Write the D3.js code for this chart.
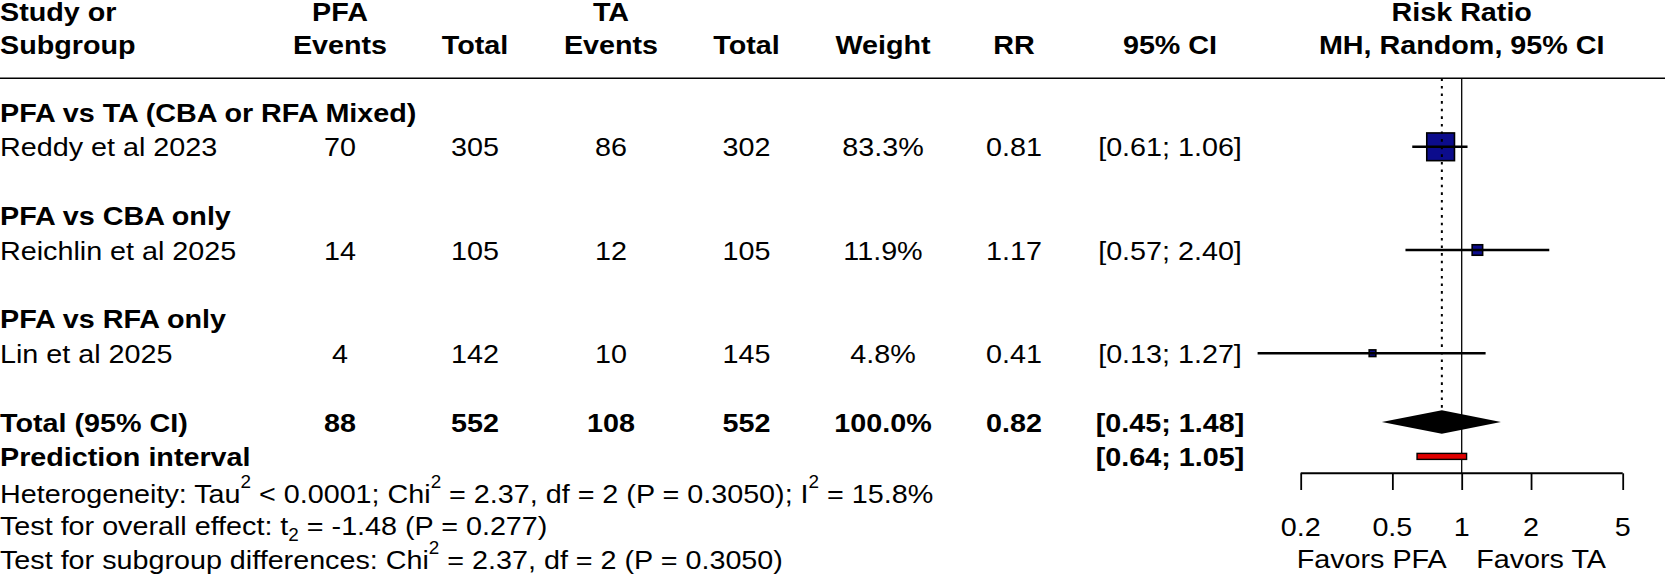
<!DOCTYPE html>
<html>
<head>
<meta charset="utf-8">
<script src="https://cdn.jsdelivr.net/npm/d3@7"></script>
<style>
  html, body { margin: 0; padding: 0; background: #fff; }
  svg { display: block; }
  text { font-family: "Liberation Sans", Arial, sans-serif; font-size: 26.6px; fill: #000; }
</style>
</head>
<body>
<svg id="chart" width="1665" height="577"></svg>
<script>
// ---------- data ----------
const subgroups = ["PFA vs TA (CBA or RFA Mixed)", "PFA vs CBA only", "PFA vs RFA only"];
const studies = ["Reddy et al 2023", "Reichlin et al 2025", "Lin et al 2025"];
const pfaEvents = [70, 14, 4];
const pfaTotal = [305, 105, 142];
const taEvents = [86, 12, 10];
const taTotal = [302, 105, 145];
const weights = [83.3, 11.9, 4.8];
const rr = [0.81, 1.17, 0.41];
const ciLow = [0.61, 0.57, 0.13];
const ciHigh = [1.06, 2.40, 1.27];

const totalLabel = "Total (95% CI)";
const totalValues = [88, 552, 108, 552];
const totalWeight = 100.0;
const pooledRR = 0.82;
const pooledLow = 0.45;
const pooledHigh = 1.48;
const predLow = 0.64;
const predHigh = 1.05;

const axisTicks = [0.2, 0.5, 1, 2, 5];
const headerTop = ["Study or", "PFA", "", "TA", "", "", "", "", "Risk Ratio"];
const headerBottom = ["Subgroup", "Events", "Total", "Events", "Total", "Weight", "RR", "95% CI", "MH, Random, 95% CI"];

// ---------- layout ----------
const SX = 1.08;               // horizontal glyph stretch of the reference
const svg = d3.select("#chart");
const x = d3.scaleLog().domain([0.2, 5]).range([1300.7, 1622.7]);
const rowY = d3.scaleLinear().domain([0, 10]).range([122, 466]);
const sq = d3.scaleSqrt().domain([0, 83.3]).range([0, 27.7]);
const colX = [0, 340, 475, 611, 746.5, 883, 1014, 1170, x(1)];
const capMid = 9.6;
const fmt2 = d3.format(".2f");
const fmtCI = (l, h) => `[${fmt2(l)}; ${fmt2(h)}]`;

function txt(x0, y0, s, anchor = "start", weight = "normal") {
  return svg.append("text")
    .attr("transform", `translate(${x0},${y0}) scale(${SX},1)`)
    .attr("text-anchor", anchor)
    .attr("font-weight", weight)
    .text(s);
}

// header
headerTop.forEach((h, i) => { if (h) txt(colX[i], 21, h, i === 0 ? "start" : "middle", "bold"); });
headerBottom.forEach((h, i) => txt(colX[i], 54, h, i === 0 ? "start" : "middle", "bold"));
svg.append("line").attr("x1", 0).attr("x2", 1665).attr("y1", 78.3).attr("y2", 78.3)
  .attr("stroke", "#000").attr("stroke-width", 1.4);

// reference line at RR = 1
svg.append("line").attr("x1", x(1)).attr("x2", x(1)).attr("y1", 78.3).attr("y2", 473.3)
  .attr("stroke", "#000").attr("stroke-width", 1.3);

// study rows
studies.forEach((s, i) => {
  const yt = rowY(i * 3), y = rowY(i * 3 + 1);
  txt(0, yt, subgroups[i], "start", "bold");
  txt(0, y, s);
  txt(colX[1], y, pfaEvents[i], "middle");
  txt(colX[2], y, pfaTotal[i], "middle");
  txt(colX[3], y, taEvents[i], "middle");
  txt(colX[4], y, taTotal[i], "middle");
  txt(colX[5], y, d3.format(".1f")(weights[i]) + "%", "middle");
  txt(colX[6], y, fmt2(rr[i]), "middle");
  txt(colX[7], y, fmtCI(ciLow[i], ciHigh[i]), "middle");
  const cy = y - capMid, side = sq(weights[i]);
  svg.append("rect").attr("x", x(rr[i]) - side / 2).attr("y", cy - side / 2)
    .attr("width", side).attr("height", side)
    .attr("fill", "#0c0c8c").attr("stroke", "#000").attr("stroke-width", 1.6);
  svg.append("line").attr("x1", x(ciLow[i])).attr("x2", x(ciHigh[i])).attr("y1", cy).attr("y2", cy)
    .attr("stroke", "#000").attr("stroke-width", 2.4);
});

// pooled dotted line
const yTot = rowY(9), yPred = rowY(10);
const dH = 11.7;
svg.append("line").attr("x1", x(pooledRR)).attr("x2", x(pooledRR))
  .attr("y1", 78.3).attr("y2", yTot - capMid - dH)
  .attr("stroke", "#000").attr("stroke-width", 2).attr("stroke-dasharray", "2.6,5");

// total row
txt(0, yTot, totalLabel, "start", "bold");
totalValues.forEach((v, i) => txt(colX[i + 1], yTot, v, "middle", "bold"));
txt(colX[5], yTot, d3.format(".1f")(totalWeight) + "%", "middle", "bold");
txt(colX[6], yTot, fmt2(pooledRR), "middle", "bold");
txt(colX[7], yTot, fmtCI(pooledLow, pooledHigh), "middle", "bold");
const cyT = yTot - capMid;
svg.append("path")
  .attr("d", `M${x(pooledLow)},${cyT} L${x(pooledRR)},${cyT - dH} L${x(pooledHigh)},${cyT} L${x(pooledRR)},${cyT + dH} Z`)
  .attr("fill", "#000");

// prediction interval
txt(0, yPred, "Prediction interval", "start", "bold");
txt(colX[7], yPred, fmtCI(predLow, predHigh), "middle", "bold");
svg.append("rect").attr("x", x(predLow)).attr("y", yPred - capMid - 3)
  .attr("width", x(predHigh) - x(predLow)).attr("height", 6)
  .attr("fill", "#e00000").attr("stroke", "#000").attr("stroke-width", 1.4);

// axis
const axisY = 473.3;
const ax = svg.append("g").attr("transform", `translate(0,${axisY})`)
  .call(d3.axisBottom(x).tickValues(axisTicks).tickFormat(d3.format("")).tickSize(16.7).tickPadding(0));
ax.select(".domain").attr("d", `M${x(0.2)},0H${x(5)}`).attr("stroke-width", 2);
ax.selectAll(".tick line").attr("stroke-width", 1.8);
ax.selectAll(".tick text").remove();
axisTicks.forEach(t => txt(x(t), 535.7, d3.format("")(t), "middle"));
txt(x(1) - 15, 568, "Favors PFA", "end");
txt(x(1) + 14.5, 568, "Favors TA", "start");

// footnotes (with super/subscripts)
function rich(y0, parts) {
  const t = svg.append("text").attr("transform", `translate(0,${y0}) scale(${SX},1)`);
  let pending = 0;
  parts.forEach(p => {
    if (typeof p === "string") {
      const ts = t.append("tspan").text(p);
      if (pending) ts.attr("dy", pending);
      pending = 0;
    } else {
      t.append("tspan").attr("dy", p.dy - pending).attr("font-size", "17.5px").text(p.t);
      pending = -p.dy;
    }
  });
}
rich(503, ["Heterogeneity: Tau", {t: "2", dy: -15}, " < 0.0001; Chi", {t: "2", dy: -15},
  " = 2.37, df = 2 (P = 0.3050); I", {t: "2", dy: -15}, " = 15.8%"]);
rich(534.5, ["Test for overall effect: t", {t: "2", dy: 6}, " = -1.48 (P = 0.277)"]);
rich(569, ["Test for subgroup differences: Chi", {t: "2", dy: -15}, " = 2.37, df = 2 (P = 0.3050)"]);
</script>
</body>
</html>
